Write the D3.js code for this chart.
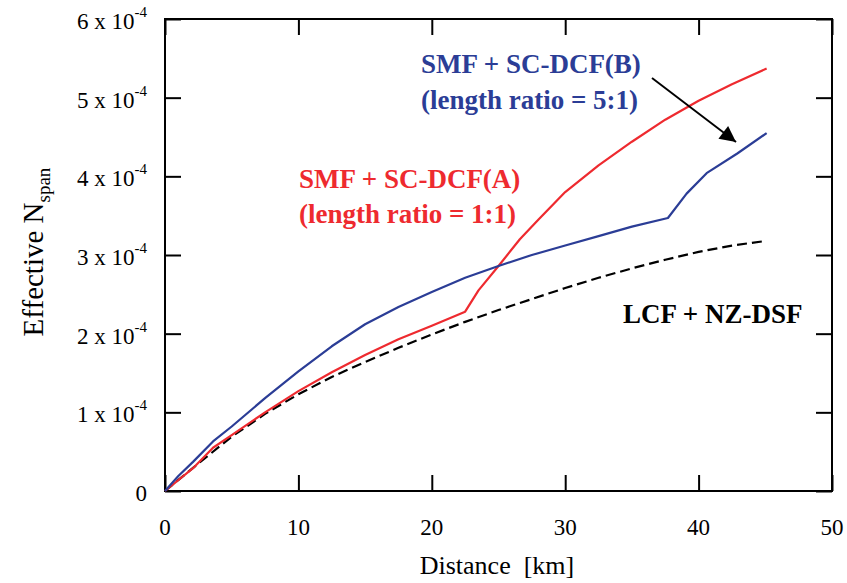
<!DOCTYPE html>
<html>
<head>
<meta charset="utf-8">
<script src="https://cdn.jsdelivr.net/npm/d3@7"></script>
<style>
  body { margin: 0; background: #fff; }
  svg { display: block; font-family: "Liberation Serif", "Times New Roman", serif; }
</style>
</head>
<body>
<div id="root"></div>
<script>
// values (y in units of 1e-4)
const xTicks = [0, 10, 20, 30, 40, 50];
const yTicks = [0, 1, 2, 3, 4, 5, 6];

const distB = [0, 1, 2.1, 3.6, 5, 7.5, 10, 12.5, 15, 17.5, 20, 22.5, 25, 27.5, 30, 32.5, 35, 37.7, 39.1, 40.6, 42.9, 45.1];
const nspanB = [0, 0.19, 0.37, 0.63, 0.82, 1.18, 1.52, 1.84, 2.12, 2.34, 2.53, 2.71, 2.86, 3.0, 3.12, 3.24, 3.36, 3.47, 3.78, 4.04, 4.29, 4.55];

const distA = [0, 2.1, 3.6, 5, 7.5, 10, 12.5, 15, 17.5, 20, 22.5, 23.5, 25, 26.6, 28, 30, 32.5, 35, 37.5, 40, 42.5, 45.1];
const nspanA = [0, 0.29, 0.55, 0.71, 1.0, 1.27, 1.51, 1.73, 1.93, 2.1, 2.28, 2.55, 2.86, 3.2, 3.45, 3.8, 4.14, 4.44, 4.72, 4.96, 5.17, 5.37];

const distL = [0, 2.5, 5, 7.5, 10, 12.5, 15, 17.5, 20, 22.5, 25, 27.5, 30, 32.5, 35, 37.5, 40, 42.5, 45.1];
const nspanL = [0, 0.35, 0.69, 0.98, 1.23, 1.45, 1.64, 1.82, 1.99, 2.15, 2.3, 2.44, 2.58, 2.71, 2.83, 2.94, 3.04, 3.12, 3.18];

const labelB = ["SMF + SC-DCF(B)", "(length ratio = 5:1)"];
const labelA = ["SMF + SC-DCF(A)", "(length ratio = 1:1)"];
const labelL = "LCF + NZ-DSF";

const blue = "#2b3d96";
const red = "#ee2a2f";

const W = 847, H = 583;
const plot = { left: 165, right: 832, top: 19, bottom: 491 };

const svg = d3.select("#root").append("svg")
  .attr("width", W)
  .attr("height", H);

const x = d3.scaleLinear().domain([0, 50]).range([plot.left, plot.right]);
const y = d3.scaleLinear().domain([0, 6]).range([plot.bottom, plot.top]);

svg.append("defs").append("marker")
  .attr("id", "head")
  .attr("viewBox", "0 0 10 10")
  .attr("refX", 10).attr("refY", 5)
  .attr("markerUnits", "userSpaceOnUse")
  .attr("markerWidth", 22).attr("markerHeight", 16)
  .attr("orient", "auto")
  .append("path")
  .attr("d", "M0,0 L10,5 L0,10 Z")
  .attr("fill", "#000");

// inward ticks on all four sides
const tick = 16;
svg.append("g").attr("transform", `translate(0,${plot.bottom})`)
  .call(d3.axisBottom(x).tickValues(xTicks).tickSize(-tick).tickFormat(""));
svg.append("g").attr("transform", `translate(0,${plot.top})`)
  .call(d3.axisTop(x).tickValues(xTicks).tickSize(-tick).tickFormat(""));
svg.append("g").attr("transform", `translate(${plot.left},0)`)
  .call(d3.axisLeft(y).tickValues(yTicks).tickSize(-tick).tickFormat(""));
svg.append("g").attr("transform", `translate(${plot.right},0)`)
  .call(d3.axisRight(y).tickValues(yTicks).tickSize(-tick).tickFormat(""));
svg.selectAll(".domain").remove();
svg.selectAll(".tick line").attr("stroke", "#000").attr("stroke-width", 2);

svg.append("rect")
  .attr("x", plot.left).attr("y", plot.top)
  .attr("width", plot.right - plot.left).attr("height", plot.bottom - plot.top)
  .attr("fill", "none").attr("stroke", "#000").attr("stroke-width", 2);

// tick labels
svg.append("g").selectAll("text").data(xTicks).join("text")
  .attr("x", d => x(d))
  .attr("y", 535)
  .attr("text-anchor", "middle")
  .attr("font-size", 23)
  .text(d => d);

const yl = svg.append("g").selectAll("text").data(yTicks).join("text")
  .attr("x", 147)
  .attr("y", d => y(d) + 10)
  .attr("text-anchor", "end")
  .attr("font-size", 23);
yl.filter(d => d === 0).text("0");
yl.filter(d => d !== 0).each(function (d) {
  const t = d3.select(this);
  t.append("tspan").text(`${d} x 10`);
  t.append("tspan").attr("font-size", 15).attr("dy", -12).text("-4");
});

// axis titles
svg.append("text")
  .attr("x", 497).attr("y", 574)
  .attr("text-anchor", "middle")
  .attr("font-size", 26)
  .attr("xml:space", "preserve")
  .text("Distance  [km]");

const yt = svg.append("text")
  .attr("transform", "translate(43,252) rotate(-90)")
  .attr("text-anchor", "middle")
  .attr("font-size", 29);
yt.append("tspan").text("Effective N");
yt.append("tspan").attr("font-size", 19).attr("dy", 7).text("span");

// curves
const line = d3.line().x(d => x(d[0])).y(d => y(d[1]));
const series = [
  { dist: distL, val: nspanL, color: "#000", dash: "10,5" },
  { dist: distA, val: nspanA, color: red, dash: null },
  { dist: distB, val: nspanB, color: blue, dash: null }
];
svg.append("g").selectAll("path").data(series).join("path")
  .attr("d", s => line(d3.zip(s.dist, s.val)))
  .attr("fill", "none")
  .attr("stroke", s => s.color)
  .attr("stroke-width", 2.2)
  .attr("stroke-linejoin", "round")
  .attr("stroke-dasharray", s => s.dash);

// annotations
const ann = svg.append("g").attr("font-weight", "bold").attr("font-size", 27);
ann.selectAll(".b").data(labelB).join("text")
  .attr("class", "b")
  .attr("x", 421).attr("y", (d, i) => 73 + i * 36)
  .attr("fill", blue).text(d => d);
ann.selectAll(".a").data(labelA).join("text")
  .attr("class", "a")
  .attr("x", 299).attr("y", (d, i) => 188 + i * 35)
  .attr("fill", red).text(d => d);
ann.append("text")
  .attr("x", 623).attr("y", 323)
  .attr("fill", "#000").text(labelL);

svg.append("line")
  .attr("x1", 652).attr("y1", 78)
  .attr("x2", 736).attr("y2", 142)
  .attr("stroke", "#000").attr("stroke-width", 2)
  .attr("marker-end", "url(#head)");
</script>
</body>
</html>
